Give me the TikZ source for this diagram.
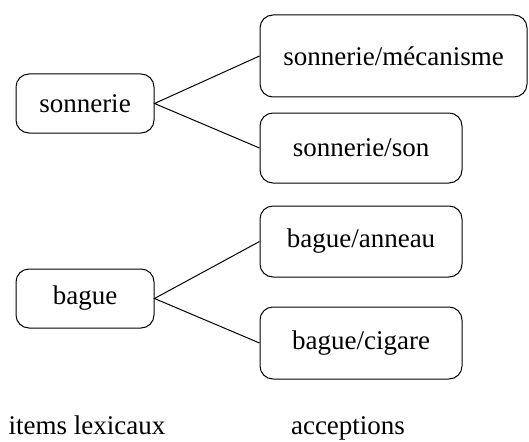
\documentclass[tikz,border=0pt]{standalone}
\usepackage{fontspec}
\setmainfont{Liberation Serif}
\begin{document}
\begin{tikzpicture}[x=1pt,y=-1pt,
  sense/.style={draw, line width=1pt, rounded corners=13pt, inner sep=0pt,
                font=\fontsize{27}{32}\selectfont},
  link/.style={draw, line width=1pt},
  caption/.style={anchor=base, inner sep=0pt, font=\fontsize{27}{32}\selectfont}]
\useasboundingbox (0,0) rectangle (529,441);
% lexical items
\node[sense, minimum width=138pt, minimum height=59pt] (sonnerie) at (85,103.5) {sonnerie};
\node[sense, minimum width=138pt, minimum height=59pt] (bague) at (85,298.5) {bague};
% senses
\node[sense, minimum width=267pt, minimum height=82pt] (mec) at (393.5,56) {sonnerie/mécanisme};
\node[sense, minimum width=202pt, minimum height=70pt] (son) at (361,148) {sonnerie/son};
\node[sense, minimum width=202pt, minimum height=71pt] (anneau) at (361,241.5) {bague/anneau};
\node[sense, minimum width=202pt, minimum height=72pt] (cigare) at (361,343) {bague/cigare};
% links
\draw[link] (mec.west) -- (sonnerie.east) -- (son.west);
\draw[link] (anneau.west) -- (bague.east) -- (cigare.west);
% column captions
\node[caption] (items) at (87,434.5) {items lexicaux};
\node[caption] (acc) at (348,434.5) {acceptions};
\end{tikzpicture}
\end{document}
